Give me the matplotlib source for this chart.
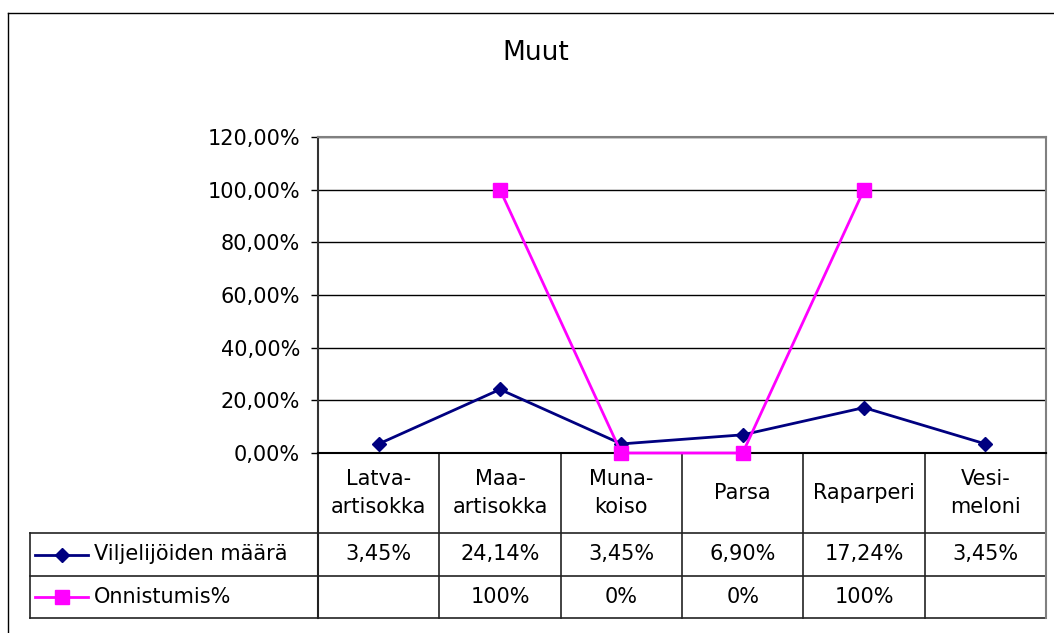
import numpy as np
import matplotlib.pyplot as plt
from matplotlib.lines import Line2D
from matplotlib.ticker import FuncFormatter
from matplotlib.transforms import blended_transform_factory

# data
categories = ["Latva-\nartisokka", "Maa-\nartisokka", "Muna-\nkoiso", "Parsa", "Raparperi", "Vesi-\nmeloni"]
viljelijat = [0.0345, 0.2414, 0.0345, 0.0690, 0.1724, 0.0345]
onnistumis = [np.nan, 1.0, 0.0, 0.0, 1.0, np.nan]
viljelijat_txt = ["3,45%", "24,14%", "3,45%", "6,90%", "17,24%", "3,45%"]
onnistumis_txt = ["", "100%", "0%", "0%", "100%", ""]
series_names = ["Viljelijöiden määrä", "Onnistumis%"]
navy = "#000080"
magenta = "#FF00FF"

W, H = 1054, 633
plt.rcParams["font.family"] = "DejaVu Sans"
fig = plt.figure(figsize=(W / 100, H / 100), dpi=100)

# overlay in pixel coordinates for table and frame
ax_t = fig.add_axes([0, 0, 1, 1])
ax_t.set_xlim(0, W)
ax_t.set_ylim(H, 0)
ax_t.axis("off")

left, right, top, bottom = 318, 1046, 137, 453
ax = fig.add_axes([left / W, 1 - bottom / H, (right - left) / W, (bottom - top) / H])
x = np.arange(len(categories))
ax.plot(x, viljelijat, color=navy, lw=2, marker="D", ms=7.5, clip_on=False, zorder=3)
ax.plot(x, onnistumis, color=magenta, lw=2, marker="s", ms=10, clip_on=False, zorder=4)
ax.set_xlim(-0.5, len(categories) - 0.5)
ax.set_ylim(0, 1.2)
ax.set_yticks(np.arange(0, 1.21, 0.2))
ax.yaxis.set_major_formatter(FuncFormatter(lambda v, p: f"{v * 100:.2f}%".replace(".", ",")))
ax.set_xticks([])
ax.tick_params(axis="y", direction="out", length=5, width=1, pad=8, labelsize=15, colors="black")
ax.grid(axis="y", color="black", lw=1)
ax.set_axisbelow(True)
for s in ["top", "right"]:
    ax.spines[s].set_color("#808080")
    ax.spines[s].set_linewidth(1.5)
ax.spines["left"].set_color("#333333")
ax.spines["left"].set_linewidth(1.5)
ax.spines["bottom"].set_color("black")
ax.spines["bottom"].set_linewidth(1.5)

fig.text(536 / W, 1 - 53 / H, "Muut", ha="center", va="center", fontsize=19)

# outer chart border (cropped on right and bottom)
ax_t.add_line(Line2D([8, W], [13, 13], color="black", lw=1))
ax_t.add_line(Line2D([8, 8], [13, H], color="black", lw=1))

# data table
trans = blended_transform_factory(ax.transData, ax_t.transData)
row_y = [533, 576, 618]
tab_left = 29.7
for yy in row_y:
    ax_t.add_line(Line2D([tab_left, right], [yy, yy], color="#222222", lw=1.2))
ax_t.add_line(Line2D([tab_left, tab_left], [row_y[0], row_y[-1]], color="#222222", lw=1.2))
for k in range(len(categories) + 1):
    c = "#808080" if k == len(categories) else "#222222"
    ax_t.plot([k - 0.5, k - 0.5], [bottom, row_y[-1]], color=c, lw=1.5 if k in (0, len(categories)) else 1.2,
              transform=trans)

for i, cat in enumerate(categories):
    ax_t.text(i, (bottom + row_y[0]) / 2, cat, transform=trans, ha="center", va="center",
              fontsize=15, linespacing=1.5)
    ax_t.text(i, (row_y[0] + row_y[1]) / 2, viljelijat_txt[i], transform=trans, ha="center",
              va="center", fontsize=15)
    ax_t.text(i, (row_y[1] + row_y[2]) / 2, onnistumis_txt[i], transform=trans, ha="center",
              va="center", fontsize=15)

# legend keys
for j, (name, col, mk, ms) in enumerate(zip(series_names, [navy, magenta], ["D", "s"], [7.5, 10])):
    yc = (row_y[j] + row_y[j + 1]) / 2
    ax_t.plot([35, 88], [yc, yc], color=col, lw=2)
    ax_t.plot([62], [yc], color=col, marker=mk, ms=ms)
    ax_t.text(94, yc, name, ha="left", va="center", fontsize=15)

fig.savefig("out.png", dpi=100)
